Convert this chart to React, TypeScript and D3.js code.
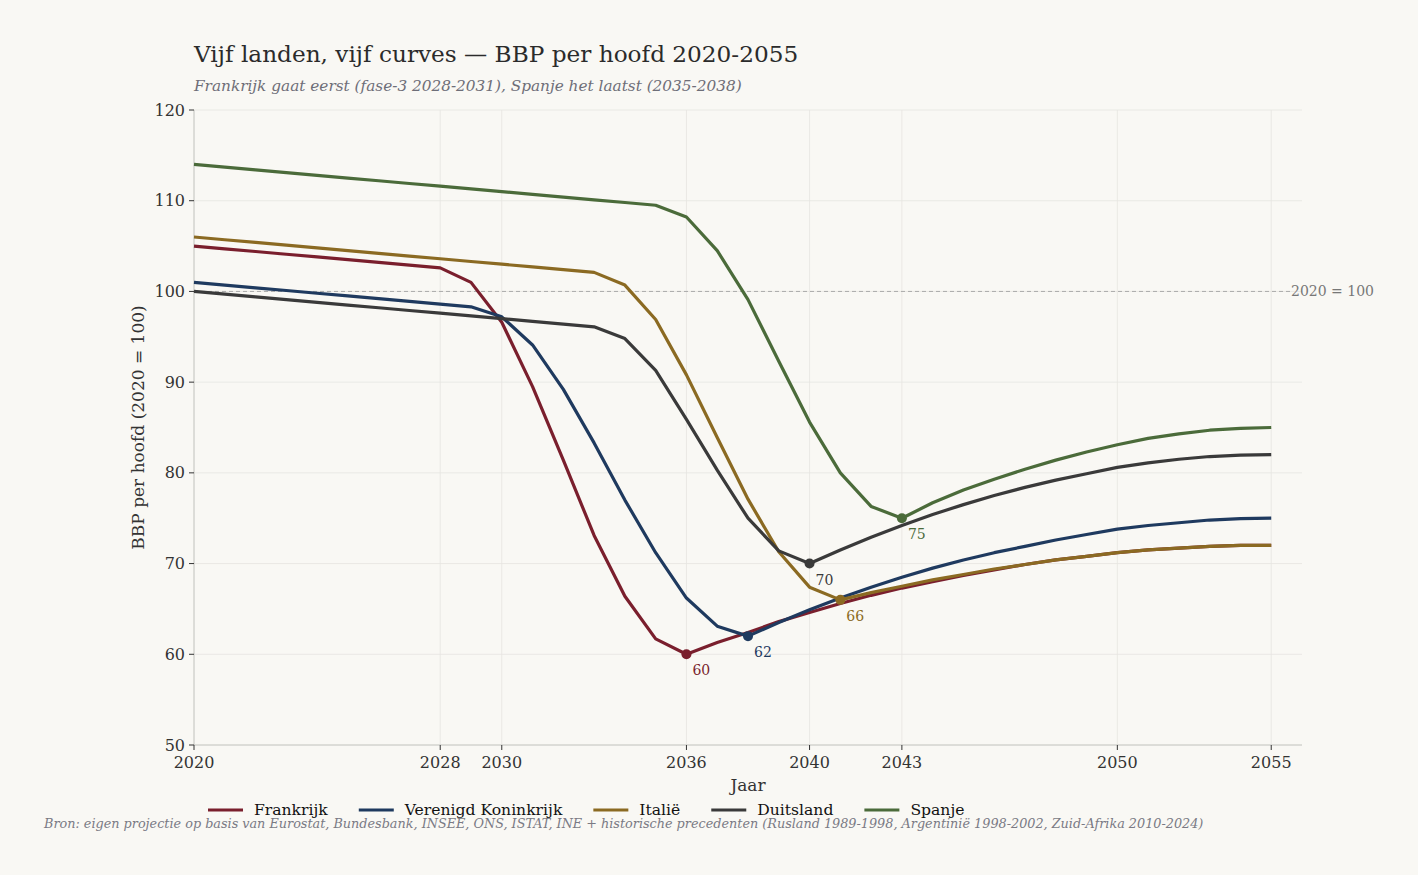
import * as d3 from 'd3';
import React from 'react';

const width = 1418;
const height = 875;
const margin = { top: 110, right: 116, bottom: 130, left: 194 };
const font = '"DejaVu Serif", serif';

// jaren 2020..2055
const years = d3.range(2020, 2056);
const xTicks = [2020, 2028, 2030, 2036, 2040, 2043, 2050, 2055];
const yTicks = [50, 60, 70, 80, 90, 100, 110, 120];

const frankrijk = [
  105.0, 104.7, 104.4, 104.1, 103.8, 103.5, 103.2, 102.9, 102.6, 101.0,
  96.6, 89.5, 81.4, 73.1, 66.4, 61.7, 60.0, 61.3, 62.4, 63.6,
  64.6, 65.6, 66.5, 67.3, 68.0, 68.7, 69.3, 69.9, 70.4, 70.8,
  71.2, 71.5, 71.7, 71.9, 72.0, 72.0,
];
const verenigdKoninkrijk = [
  101.0, 100.7, 100.4, 100.1, 99.8, 99.5, 99.2, 98.9, 98.6, 98.3,
  97.2, 94.1, 89.2, 83.3, 77.0, 71.2, 66.2, 63.1, 62.0, 63.5,
  64.9, 66.2, 67.4, 68.5, 69.5, 70.4, 71.2, 71.9, 72.6, 73.2,
  73.8, 74.2, 74.5, 74.8, 74.95, 75.0,
];
const italie = [
  106.0, 105.7, 105.4, 105.1, 104.8, 104.5, 104.2, 103.9, 103.6, 103.3,
  103.0, 102.7, 102.4, 102.1, 100.7, 96.9, 90.8, 83.9, 77.1, 71.3,
  67.4, 66.0, 66.8, 67.5, 68.2, 68.8, 69.4, 69.9, 70.4, 70.8,
  71.2, 71.5, 71.7, 71.9, 72.0, 72.0,
];
const duitsland = [
  100.0, 99.7, 99.4, 99.1, 98.8, 98.5, 98.2, 97.9, 97.6, 97.3,
  97.0, 96.7, 96.4, 96.1, 94.8, 91.3, 85.9, 80.3, 75.0, 71.4,
  70.0, 71.5, 72.9, 74.2, 75.4, 76.5, 77.5, 78.4, 79.2, 79.9,
  80.6, 81.1, 81.5, 81.8, 81.95, 82.0,
];
const spanje = [
  114.0, 113.7, 113.4, 113.1, 112.8, 112.5, 112.2, 111.9, 111.6, 111.3,
  111.0, 110.7, 110.4, 110.1, 109.8, 109.5, 108.2, 104.5, 99.1, 92.3,
  85.6, 80.0, 76.3, 75.0, 76.7, 78.1, 79.3, 80.4, 81.4, 82.3,
  83.1, 83.8, 84.3, 84.7, 84.9, 85.0,
];

const seriesNames = ['Frankrijk', 'Verenigd Koninkrijk', 'Italië', 'Duitsland', 'Spanje'];
const seriesValues = [frankrijk, verenigdKoninkrijk, italie, duitsland, spanje];
const seriesColors = ['#7a1f2d', '#1f3a5f', '#8b6a22', '#3a3a3a', '#4b6b3a'];

const title = 'Vijf landen, vijf curves \u2014 BBP per hoofd 2020-2055';
const subtitle = 'Frankrijk gaat eerst (fase-3 2028-2031), Spanje het laatst (2035-2038)';
const source =
  'Bron: eigen projectie op basis van Eurostat, Bundesbank, INSEE, ONS, ISTAT, INE + historische precedenten (Rusland 1989-1998, Argentinië 1998-2002, Zuid-Afrika 2010-2024)';

function textWidth(text: string, size: number) {
  const canvas = document.createElement('canvas');
  const ctx = canvas.getContext('2d');
  if (!ctx) return text.length * size * 0.6;
  ctx.font = `${size}px "DejaVu Serif"`;
  return ctx.measureText(text).width;
}

export default function App() {
  const x = d3
    .scaleLinear()
    .domain([2020, 2056])
    .range([margin.left, width - margin.right]);
  const y = d3
    .scaleLinear()
    .domain([50, 120])
    .range([height - margin.bottom, margin.top]);

  const line = d3
    .line<number>()
    .x((_, i) => x(years[i]))
    .y(d => y(d));

  const plotBottom = height - margin.bottom;
  const plotRight = width - margin.right;

  // legend layout
  const legendSize = 15.6;
  const legendItems: { name: string; color: string; x: number }[] = [];
  let lx = 208;
  seriesNames.forEach((name, i) => {
    legendItems.push({ name, color: seriesColors[i], x: lx });
    lx += 35 + 11 + textWidth(name, legendSize) + 31;
  });

  return (
    <svg
      width={width}
      height={height}
      style={{ position: 'absolute', left: 0, top: 0, fontFamily: font }}
    >
      <rect width={width} height={height} fill="#f9f8f4" />

      <text x={194} y={62} fontSize={23.2} fill="#2b2b2b">
        {title}
      </text>
      <text x={194} y={91} fontSize={15.3} fontStyle="italic" fill="#6e6e78">
        {subtitle}
      </text>

      {/* grid */}
      <g>
        {yTicks.map(t => (
          <line key={t} x1={margin.left} x2={plotRight} y1={y(t)} y2={y(t)} stroke="#e6e5e1" strokeWidth={0.8} />
        ))}
        {xTicks.map(t => (
          <line key={t} x1={x(t)} x2={x(t)} y1={margin.top} y2={plotBottom} stroke="#e6e5e1" strokeWidth={0.8} />
        ))}
      </g>

      {/* axes */}
      <line x1={margin.left} x2={margin.left} y1={margin.top} y2={plotBottom} stroke="#c8c8c4" strokeWidth={1} />
      <line x1={margin.left} x2={plotRight} y1={plotBottom} y2={plotBottom} stroke="#c8c8c4" strokeWidth={1} />
      {yTicks.map(t => (
        <g key={t}>
          <line x1={margin.left - 5} x2={margin.left} y1={y(t)} y2={y(t)} stroke="#333" />
          <text x={margin.left - 9} y={y(t)} dy="0.35em" textAnchor="end" fontSize={16} fill="#333">
            {t}
          </text>
        </g>
      ))}
      {xTicks.map(t => (
        <g key={t}>
          <line x1={x(t)} x2={x(t)} y1={plotBottom} y2={plotBottom + 5} stroke="#333" />
          <text x={x(t)} y={plotBottom + 23} textAnchor="middle" fontSize={16} fill="#333">
            {t}
          </text>
        </g>
      ))}
      <text x={(margin.left + plotRight) / 2} y={791} textAnchor="middle" fontSize={17} fill="#333">
        Jaar
      </text>
      <text
        transform={`translate(144, ${(margin.top + plotBottom) / 2}) rotate(-90)`}
        textAnchor="middle"
        fontSize={17}
        fill="#333"
      >
        BBP per hoofd (2020 = 100)
      </text>

      {/* referentielijn */}
      <line
        x1={margin.left}
        x2={plotRight - 11}
        y1={y(100)}
        y2={y(100)}
        stroke="#aaaaaa"
        strokeWidth={1}
        strokeDasharray="4,3"
      />
      <text x={plotRight - 11} y={y(100)} dy="0.35em" fontSize={14} fill="#777">
        2020 = 100
      </text>

      {/* lijnen */}
      {seriesValues.map((vals, i) => (
        <path key={seriesNames[i]} d={line(vals) || ''} fill="none" stroke={seriesColors[i]} strokeWidth={3.2} strokeLinejoin="round" />
      ))}

      {/* dieptepunten */}
      {seriesValues.map((vals, i) => {
        const mi = d3.minIndex(vals);
        const cx = x(years[mi]);
        const cy = y(vals[mi]);
        return (
          <g key={seriesNames[i]}>
            <circle cx={cx} cy={cy} r={5} fill={seriesColors[i]} />
            <text x={cx + 6} y={cy + 21} fontSize={14} fill={seriesColors[i]}>
              {Math.round(vals[mi])}
            </text>
          </g>
        );
      })}

      {/* legenda */}
      {legendItems.map(item => (
        <g key={item.name}>
          <line x1={item.x} x2={item.x + 35} y1={810} y2={810} stroke={item.color} strokeWidth={3} />
          <text x={item.x + 46} y={810} dy="0.35em" fontSize={legendSize} fill="#111">
            {item.name}
          </text>
        </g>
      ))}

      <text x={44} y={828} fontSize={12.8} fontStyle="italic" fill="#7a7a84">
        {source}
      </text>
    </svg>
  );
}
